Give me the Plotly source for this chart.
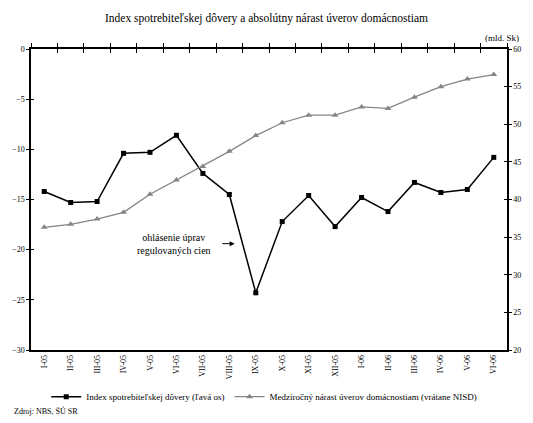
import plotly.graph_objects as go

# Monthly categories, I/2005 - VI/2006
months = ["I-05", "II-05", "III-05", "IV-05", "V-05", "VI-05", "VII-05", "VIII-05",
          "IX-05", "X-05", "XI-05", "XII-05", "I-06", "II-06", "III-06", "IV-06",
          "V-06", "VI-06"]

# Consumer confidence index (left axis)
confidence = [-14.2, -15.3, -15.2, -10.4, -10.3, -8.6, -12.4, -14.5, -24.3,
              -17.2, -14.6, -17.7, -14.8, -16.2, -13.3, -14.3, -14.0, -10.8]

# Year-on-year growth of household loans, bn SKK (right axis)
loans = [36.3, 36.7, 37.4, 38.3, 40.7, 42.6, 44.4, 46.4, 48.5, 50.2, 51.2,
         51.2, 52.3, 52.1, 53.6, 55.0, 56.0, 56.6]

left_ticks = [0, -5, -10, -15, -20, -25, -30]
right_ticks = [60, 55, 50, 45, 40, 35, 30, 25, 20]

FONT = "Liberation Serif"
idx = list(range(len(months)))

fig = go.Figure()
fig.add_trace(go.Scatter(
    x=idx, y=confidence, name="Index spotrebiteľskej dôvery (ľavá os)",
    mode="lines+markers", line=dict(color="black", width=1.5),
    marker=dict(symbol="square", size=5, color="black"),
    xaxis="x", yaxis="y"))
fig.add_trace(go.Scatter(
    x=idx, y=loans, name="Medziročný nárast úverov domácnostiam (vrátane NISD)",
    mode="lines+markers", line=dict(color="#858585", width=1.3),
    marker=dict(symbol="triangle-up", size=6, color="#858585"),
    xaxis="x", yaxis="y2"))

# empty helper traces so the tick-only axes get drawn
for xa, ya in [("x2", "y"), ("x3", "y"), ("x", "y3"), ("x", "y4")]:
    fig.add_trace(go.Scatter(x=[], y=[], xaxis=xa, yaxis=ya, showlegend=False,
                             hoverinfo="skip"))

xr = [-0.5, len(months) - 0.5]
common_y = dict(range=[-30, 0], tickvals=left_ticks, showgrid=False, zeroline=False)
common_y2 = dict(range=[20, 60], tickvals=right_ticks, showgrid=False, zeroline=False)

fig.update_layout(
    width=533, height=423,
    margin=dict(l=25, r=18, t=49, b=68),
    paper_bgcolor="white", plot_bgcolor="white",
    font=dict(family=FONT, color="black", size=9),
    title=dict(text="Index spotrebiteľskej dôvery a absolútny nárast úverov domácnostiam",
               x=0.5, xanchor="center", y=1 - 18 / 423, yanchor="middle",
               yref="container", font=dict(family=FONT, size=11.5)),
    xaxis=dict(range=xr, tickvals=idx, ticktext=months, tickangle=-90,
               tickfont=dict(size=8), ticks="", showline=True, linecolor="black",
               linewidth=1.5, showgrid=False, zeroline=False, anchor="y"),
    xaxis2=dict(range=xr, overlaying="x", side="top", anchor="y", tick0=-0.5, dtick=1,
                ticks="outside", ticklen=4, tickcolor="black", showticklabels=False,
                showline=True, linecolor="black", linewidth=1.5, showgrid=False,
                zeroline=False),
    xaxis3=dict(range=xr, overlaying="x", side="top", anchor="y", tick0=-0.5, dtick=1,
                ticks="inside", ticklen=4, tickcolor="black", showticklabels=False,
                showline=False, showgrid=False, zeroline=False),
    yaxis=dict(**common_y, ticks="outside", ticklen=3, tickcolor="black",
               tickfont=dict(size=8), showline=True, linecolor="black", linewidth=1.5,
               anchor="x", side="left"),
    yaxis3=dict(**common_y, overlaying="y", ticks="inside", ticklen=3, tickcolor="black",
                showticklabels=False, showline=False, anchor="x", side="left"),
    yaxis2=dict(**common_y2, overlaying="y", side="right", anchor="x", ticks="outside",
                ticklen=3, tickcolor="black", tickfont=dict(size=8), showline=True,
                linecolor="black", linewidth=1.5),
    yaxis4=dict(**common_y2, overlaying="y", side="right", anchor="x", ticks="inside",
                ticklen=3, tickcolor="black", showticklabels=False, showline=False),
    legend=dict(orientation="h", x=0.49, xanchor="center", y=-0.155, yanchor="middle",
                font=dict(size=9), itemwidth=30, bgcolor="rgba(0,0,0,0)"),
    showlegend=True,
)

fig.add_annotation(text="(mld. Sk)", xref="paper", yref="paper", x=0.99, y=1.038,
                   xanchor="center", yanchor="middle", showarrow=False,
                   font=dict(size=9))
fig.add_annotation(text="ohlásenie úprav<br>regulovaných cien", xref="x", yref="y",
                   x=4.9, y=-19.4, showarrow=False, font=dict(size=10),
                   xanchor="center", yanchor="middle")
fig.add_annotation(text="", xref="x", yref="y", x=7.2, y=-19.4, ax=6.68, ay=-19.4,
                   axref="x", ayref="y", showarrow=True, arrowhead=2, arrowsize=1,
                   arrowwidth=1, arrowcolor="black")
fig.add_annotation(text="Zdroj: NBS, ŠÚ SR", xref="paper", yref="paper",
                   x=-20 / 490, y=(354.5 - 417) / 306, xanchor="left", yanchor="middle",
                   showarrow=False, font=dict(size=8))

fig.write_html("out.html")
